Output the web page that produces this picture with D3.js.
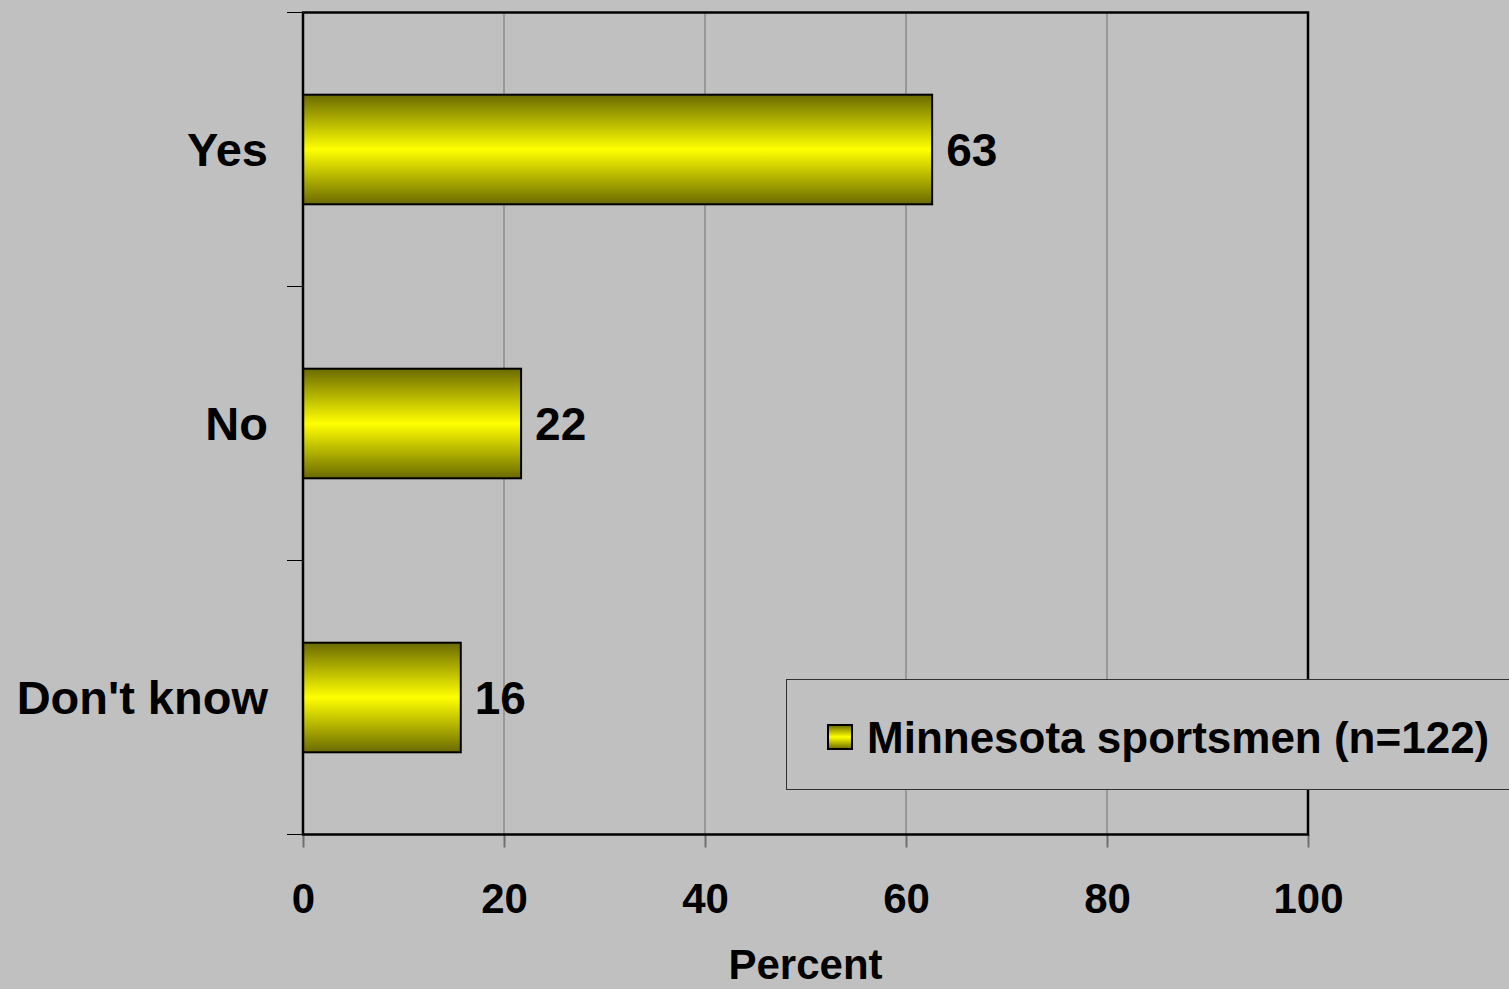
<!DOCTYPE html>
<html>
<head>
<meta charset="utf-8">
<script src="https://cdn.jsdelivr.net/npm/d3@7"></script>
<style>
  html, body { margin: 0; padding: 0; background: #c0c0c0; overflow: hidden; }
  text { font-family: "Liberation Sans", Arial, sans-serif; font-weight: bold; fill: #000; }
</style>
</head>
<body>
<div id="chart"></div>
<script>
// Chart data
const categories = ["Yes", "No", "Don't know"];
const values = [62.6, 21.7, 15.7];
const xTicks = [0, 20, 40, 60, 80, 100];
const seriesName = "Minnesota sportsmen (n=122)";
const axisTitle = "Percent";

// Canvas and plot box
const WIDTH = 1509, HEIGHT = 989;
const plot = { left: 303, right: 1308, top: 12.5, bottom: 834.5 };

const svg = d3.select("#chart").append("svg")
    .attr("width", WIDTH)
    .attr("height", HEIGHT);

svg.append("rect")
    .attr("width", WIDTH).attr("height", HEIGHT)
    .attr("fill", "#c0c0c0");

// Vertical gradient for the bars: dark olive edges, bright yellow middle
const grad = svg.append("defs").append("linearGradient")
    .attr("id", "barGrad")
    .attr("x1", 0).attr("y1", 0).attr("x2", 0).attr("y2", 1);
grad.append("stop").attr("offset", "0%").attr("stop-color", "#6a6a00");
grad.append("stop").attr("offset", "50%").attr("stop-color", "#ffff00");
grad.append("stop").attr("offset", "100%").attr("stop-color", "#6a6a00");

const xScale = d3.scaleLinear().domain([0, 100]).range([plot.left, plot.right]);
const yScale = d3.scaleBand().domain(categories)
    .range([plot.top, plot.bottom])
    .paddingInner(0.6)
    .paddingOuter(0.3);

// Gridlines
svg.append("g")
    .selectAll("line")
    .data(xTicks.slice(1, -1))
    .enter()
    .append("line")
    .attr("x1", d => xScale(d)).attr("x2", d => xScale(d))
    .attr("y1", plot.top).attr("y2", plot.bottom)
    .attr("stroke", "#707070")
    .attr("stroke-width", 1);

// Bottom axis (gray ticks, bold labels)
const xAxis = svg.append("g")
    .attr("transform", `translate(0, ${plot.bottom})`)
    .call(d3.axisBottom(xScale).tickValues(xTicks).tickSize(13).tickPadding(36));
xAxis.select(".domain").remove();
xAxis.selectAll(".tick line").attr("stroke", "#707070").attr("stroke-width", 2);
xAxis.selectAll(".tick text")
    .style("font-size", "42px")
    .style("font-family", "'Liberation Sans', Arial, sans-serif")
    .style("font-weight", "bold")
    .attr("fill", "#000");

// Left axis ticks at band boundaries
const boundaries = d3.range(categories.length + 1).map(i => plot.top + i * yScale.step());
svg.append("g")
    .selectAll("line")
    .data(boundaries)
    .enter()
    .append("line")
    .attr("x1", plot.left - 16).attr("x2", plot.left)
    .attr("y1", d => d).attr("y2", d => d)
    .attr("stroke", "#000")
    .attr("stroke-width", 1);

// Category labels
svg.append("g")
    .selectAll("text")
    .data(categories)
    .enter()
    .append("text")
    .attr("x", plot.left - 35)
    .attr("y", d => yScale(d) + yScale.bandwidth() / 2)
    .attr("dy", "0.36em")
    .attr("text-anchor", "end")
    .style("font-size", "47px")
    .text(d => d);

// Bars
svg.append("g")
    .selectAll("rect")
    .data(categories)
    .enter()
    .append("rect")
    .attr("x", xScale(0))
    .attr("y", d => yScale(d))
    .attr("width", (d, i) => xScale(values[i]) - xScale(0))
    .attr("height", yScale.bandwidth())
    .attr("fill", "url(#barGrad)")
    .attr("stroke", "#000")
    .attr("stroke-width", 2);

// Value labels
svg.append("g")
    .selectAll("text")
    .data(categories)
    .enter()
    .append("text")
    .attr("x", (d, i) => xScale(values[i]) + 14)
    .attr("y", d => yScale(d) + yScale.bandwidth() / 2)
    .attr("dy", "0.36em")
    .style("font-size", "46px")
    .text((d, i) => d3.format(".0f")(values[i]));

// Plot frame
svg.append("rect")
    .attr("x", plot.left).attr("y", plot.top)
    .attr("width", plot.right - plot.left)
    .attr("height", plot.bottom - plot.top)
    .attr("fill", "none")
    .attr("stroke", "#000")
    .attr("stroke-width", 2.5);

// Axis title
svg.append("text")
    .attr("x", (plot.left + plot.right) / 2)
    .attr("y", 979)
    .attr("text-anchor", "middle")
    .style("font-size", "42px")
    .text(axisTitle);

// Legend
const legend = svg.append("g");
legend.append("rect")
    .attr("x", 786.5).attr("y", 679.5)
    .attr("width", 740).attr("height", 110)
    .attr("fill", "#c0c0c0")
    .attr("stroke", "#303030")
    .attr("stroke-width", 1);
legend.append("rect")
    .attr("x", 828).attr("y", 725)
    .attr("width", 24).attr("height", 24)
    .attr("fill", "url(#barGrad)")
    .attr("stroke", "#000")
    .attr("stroke-width", 2);
legend.append("text")
    .attr("x", 867)
    .attr("y", 737)
    .attr("dy", "0.36em")
    .style("font-size", "44px")
    .text(seriesName);
</script>
</body>
</html>
